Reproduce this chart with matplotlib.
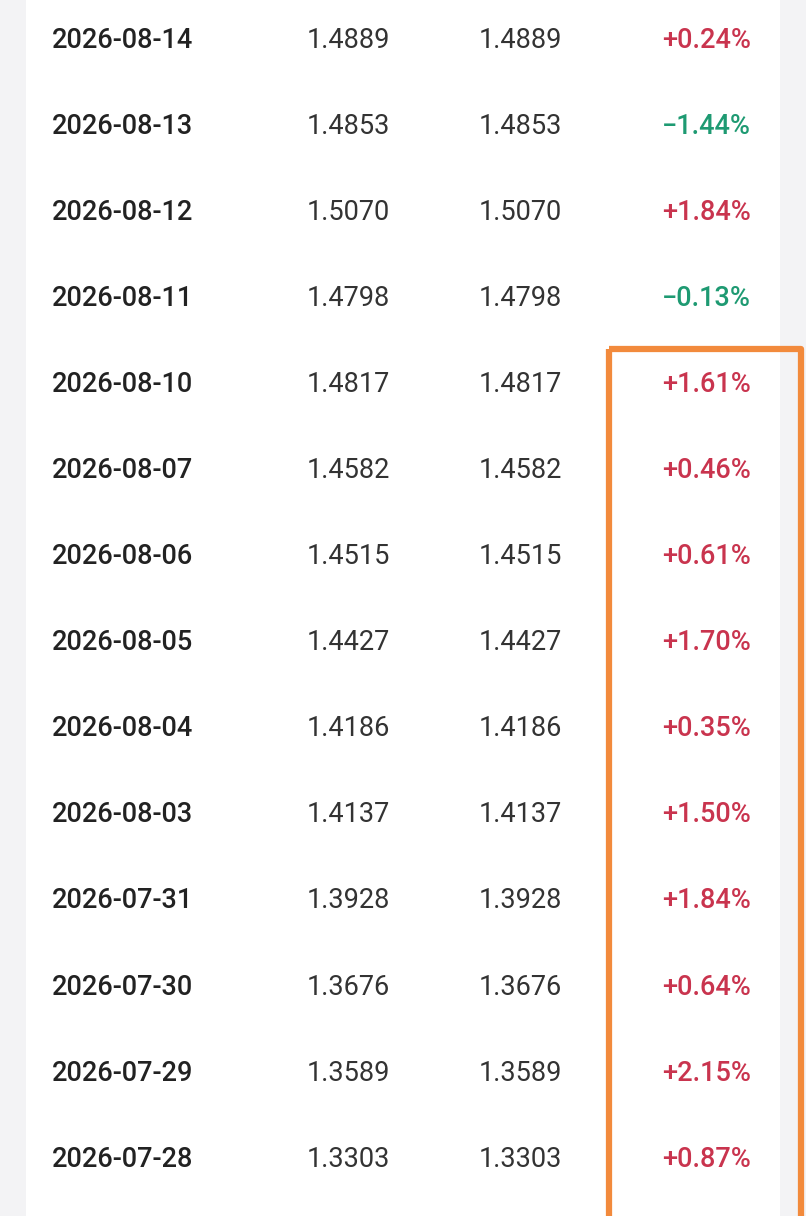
import matplotlib.pyplot as plt
from matplotlib.patches import Rectangle

dates = ['2026-08-14', '2026-08-13', '2026-08-12', '2026-08-11', '2026-08-10',
         '2026-08-07', '2026-08-06', '2026-08-05', '2026-08-04', '2026-08-03',
         '2026-07-31', '2026-07-30', '2026-07-29', '2026-07-28']
unit_nav = ['1.4889', '1.4853', '1.5070', '1.4798', '1.4817', '1.4582', '1.4515',
            '1.4427', '1.4186', '1.4137', '1.3928', '1.3676', '1.3589', '1.3303']
acc_nav = list(unit_nav)
changes = [0.24, -1.44, 1.84, -0.13, 1.61, 0.46, 0.61, 1.70, 0.35, 1.50,
           1.84, 0.64, 2.15, 0.87]

W, H = 806, 1216
fig = plt.figure(figsize=(W / 100, H / 100), dpi=100)
ax = fig.add_axes([0, 0, 1, 1])
ax.set_xlim(0, W)
ax.set_ylim(H, 0)
ax.axis('off')

# grey side margins
ax.add_patch(Rectangle((0, 0), 26, H, color='#f3f3f5', lw=0))
ax.add_patch(Rectangle((780, 0), 26, H, color='#f3f3f5', lw=0))

red, green, dark = '#c9344e', '#1e9a72', '#222222'
fs = 19.5
y0, step = 40, 86.1
for i, (d, u, a, c) in enumerate(zip(dates, unit_nav, acc_nav, changes)):
    y = y0 + i * step
    ax.text(52, y, d, fontsize=fs, family='Roboto', weight='medium', color=dark,
            ha='left', va='center')
    ax.text(348, y, u, fontsize=fs, family='Roboto', color='#333333', ha='center', va='center')
    ax.text(520, y, a, fontsize=fs, family='Roboto', color='#333333', ha='center', va='center')
    txt = f'+{c:.2f}%' if c >= 0 else f'\u2212{abs(c):.2f}%'
    ax.text(751, y, txt, fontsize=fs, family='Roboto', weight='medium',
            color=red if c >= 0 else green, ha='right', va='center')

# orange highlight box
ax.add_patch(Rectangle((609, 349), 192, 900, fill=False, ec='#f28a3c', lw=4.5,
                       joinstyle='round'))

fig.savefig('out.png', dpi=100, facecolor='white')
